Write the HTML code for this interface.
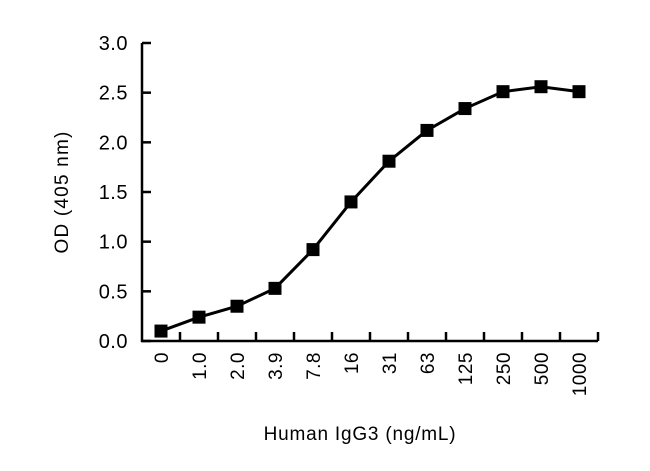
<!DOCTYPE html>
<html><head><meta charset="utf-8"><style>
body{margin:0;background:#fff}
svg{font-family:"Liberation Sans",sans-serif}
</style></head><body>
<svg id="chart" width="650" height="466" viewBox="0 0 650 466" xmlns="http://www.w3.org/2000/svg">
<g id="axes"></g><g id="marks"></g>
<text transform="translate(68,192) rotate(-90)" text-anchor="middle" style="font-size:19px;letter-spacing:1.2px" fill="#000">OD (405 nm)</text>
<text x="360" y="440" text-anchor="middle" style="font-size:19px;letter-spacing:0.8px" fill="#000">Human IgG3 (ng/mL)</text>
</svg>
<script>
const categories=["0","1.0","2.0","3.9","7.8","16","31","63","125","250","500","1000"];
const values=[0.10,0.24,0.35,0.53,0.92,1.40,1.81,2.12,2.34,2.51,2.56,2.51];
const yTicks=[0,0.5,1.0,1.5,2.0,2.5,3.0];
const yTickLabels=["0.0","0.5","1.0","1.5","2.0","2.5","3.0"];
const NS="http://www.w3.org/2000/svg";
const x0=142,yBase=341,yTop=43,x1=598,step=38,first=161;
const xs=i=>first+i*step;
const ys=v=>yBase-(v/3)*(yBase-yTop);
function mk(t,a,p){const e=document.createElementNS(NS,t);for(const k in a)e.setAttribute(k,a[k]);p.appendChild(e);return e;}
const ax=document.getElementById('axes'),mg=document.getElementById('marks');
let l=mk('line',{x1:x0,y1:yTop,x2:x0,y2:yBase+1,stroke:'#000','stroke-width':2.5},ax);


l=mk('line',{x1:x0-1,y1:yBase,x2:x1,y2:yBase,stroke:'#000','stroke-width':2.5},ax);


yTicks.forEach((v,i)=>{
 const t=mk('line',{x1:x0,y1:ys(v),x2:x0+9,y2:ys(v),stroke:'#000','stroke-width':2.5},ax);
 
 
 const tx=mk('text',{x:128,y:ys(v)+7,'text-anchor':'end',style:'font-size:20px;letter-spacing:0.5px'},ax);
 
 
 tx.textContent=yTickLabels[i];
});
categories.forEach((c,i)=>{
 const tx2=xs(i)+step/2;
 const t=mk('line',{x1:tx2,y1:yBase,x2:tx2,y2:yBase-9,stroke:'#000','stroke-width':2.5},ax);
 
 
 const tx=mk('text',{transform:`translate(${xs(i)+7},352) rotate(-90)`,'text-anchor':'end',style:'font-size:19px;letter-spacing:0.5px'},ax);
 
 
 tx.textContent=c;
});
const pl=mk('polyline',{points:values.map((v,i)=>xs(i)+','+ys(v)).join(' '),fill:'none',stroke:'#000','stroke-width':3},mg);


values.forEach((v,i)=>{
 const r=mk('rect',{x:xs(i)-6.5,y:ys(v)-6.5,width:13,height:13,fill:'#000'},mg);
 
 
});
</script>
</body></html>
